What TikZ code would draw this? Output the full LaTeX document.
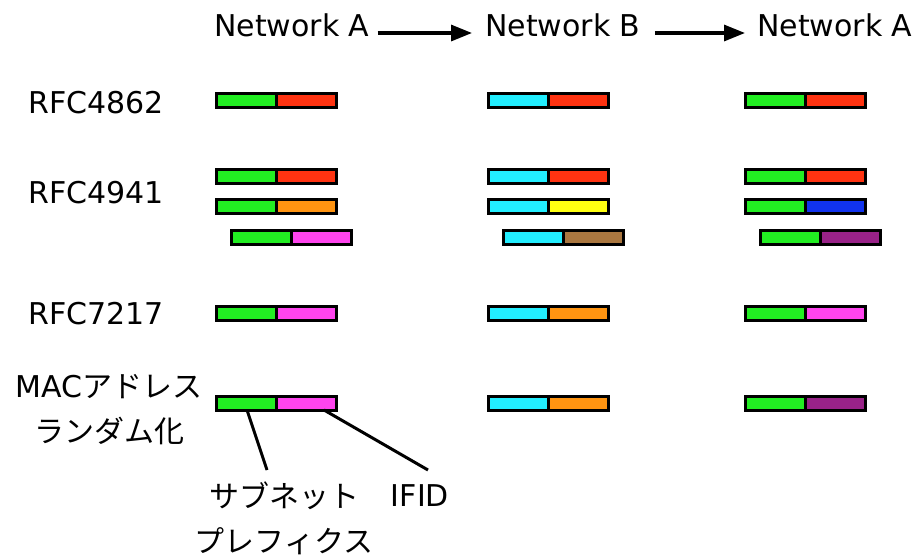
\documentclass[tikz,border=0pt]{standalone}
\usepackage{fontspec}
\setmainfont{DejaVu Sans}
\newfontfamily\jp{Noto Sans CJK JP}
\usetikzlibrary{arrows.meta}
\definecolor{cG}{HTML}{22EE22}
\definecolor{cR}{HTML}{FF3311}
\definecolor{cO}{HTML}{FF9411}
\definecolor{cM}{HTML}{FF44EE}
\definecolor{cC}{HTML}{22EEFF}
\definecolor{cY}{HTML}{FFFF11}
\definecolor{cBr}{HTML}{AA7740}
\definecolor{cBl}{HTML}{1133EE}
\definecolor{cP}{HTML}{992288}
\newcommand\ipbar[5]{%
  \node[seg,fill=#4] (#1p) at (#2,#3) {};
  \node[seg,fill=#5] (#1i) at (#1p.east) {};}
\begin{document}
\begin{tikzpicture}[x=1pt,y=-1pt,
  txt/.style={font=\fontsize{30}{45}\selectfont, inner sep=0pt},
  seg/.style={draw=black, line width=3pt, minimum width=60pt, minimum height=14pt, inner sep=0pt, outer sep=0pt, anchor=west},
  arr/.style={line width=3.2pt, -{Triangle[length=21pt,width=16pt]}},
  callout/.style={line width=3pt}]
\useasboundingbox[fill=white] (0,0) rectangle (918,555);
% headers
\node[txt,anchor=base west] (hA1) at (214,36) {Network A};
\node[txt,anchor=base west] (hB) at (485,36) {Network B};
\node[txt,anchor=base west] (hA2) at (757,36) {Network A};
\draw[arr] ([xshift=8pt,yshift=3pt]hA1.base east) -- ([xshift=-13pt,yshift=3pt]hB.base west);
\draw[arr] ([xshift=14pt,yshift=3pt]hB.base east) -- ([xshift=-12pt,yshift=3pt]hA2.base west);
% row labels
\node[txt,anchor=base west] (l1) at (28,113) {RFC4862};
\node[txt,anchor=base west] (l2) at (28,203) {RFC4941};
\node[txt,anchor=base west] (l3) at (28,324) {RFC7217};
\node[txt,align=center] (l4) at (109,410) {MAC{\jp アドレス}\\{\jp ランダム化}};
% column 1
\ipbar{a1}{216}{100}{cG}{cR}
\ipbar{a2}{216}{176.5}{cG}{cR}
\ipbar{a3}{216}{206.5}{cG}{cO}
\ipbar{a4}{231}{237}{cG}{cM}
\ipbar{a5}{216}{313}{cG}{cM}
\ipbar{a6}{216}{403}{cG}{cM}
% column 2
\ipbar{b1}{488}{100}{cC}{cR}
\ipbar{b2}{488}{176.5}{cC}{cR}
\ipbar{b3}{488}{206.5}{cC}{cY}
\ipbar{b4}{503}{237}{cC}{cBr}
\ipbar{b5}{488}{313}{cC}{cO}
\ipbar{b6}{488}{403}{cC}{cO}
% column 3
\ipbar{c1}{745}{100}{cG}{cR}
\ipbar{c2}{745}{176.5}{cG}{cR}
\ipbar{c3}{745}{206.5}{cG}{cBl}
\ipbar{c4}{760}{237}{cG}{cP}
\ipbar{c5}{745}{313}{cG}{cM}
\ipbar{c6}{745}{403}{cG}{cP}
% callouts
\node[txt,align=center] (sub) at (284,518) {{\jp サブネット}\\{\jp プレフィクス}};
\node[txt] (ifid) at (420,496) {IFID};
\coordinate (subEnd) at (267,470);
\coordinate (ifidEnd) at (428,470);
\draw[callout] ([xshift=1pt]a6p.south) -- (subEnd);
\draw[callout] ([xshift=-12pt]a6i.south east) -- (ifidEnd);
\end{tikzpicture}
\end{document}
